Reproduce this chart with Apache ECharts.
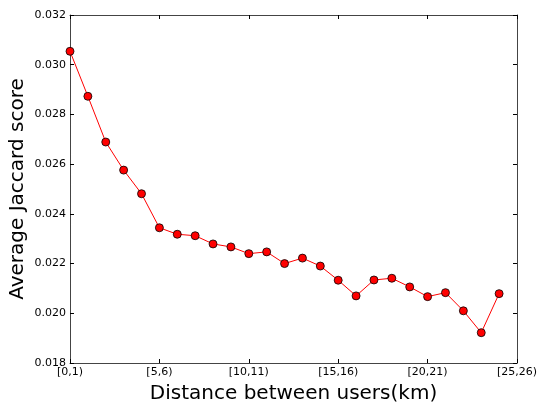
<!DOCTYPE html>
<html>
<head>
<meta charset="utf-8">
<script src="https://cdn.jsdelivr.net/npm/echarts@6/dist/echarts.min.js"></script>
<style>
  html, body { margin: 0; padding: 0; background: #fff; }
  #chart { width: 540px; height: 403px; }
</style>
</head>
<body>
<div id="chart"></div>
<script>
// distance buckets (km)
const categories = []
for (let i = 0; i <= 25; i++) categories.push('[' + i + ',' + (i + 1) + ')')

const jaccard = [
  0.03054, 0.02873, 0.02689, 0.02576, 0.02481,
  0.02344, 0.02318, 0.02312, 0.02279, 0.02267,
  0.02240, 0.02247, 0.02200, 0.02222, 0.02190,
  0.02133, 0.02070, 0.02134, 0.02141, 0.02106,
  0.02067, 0.02083, 0.02010, 0.01922, 0.02079
]

const yMin = 0.018
const yMax = 0.032
const yStep = 0.002

const font = 'DejaVu Sans'

const chart = echarts.init(document.getElementById('chart'), null, { renderer: 'canvas' })

const boxLine = { show: true, onZero: false, lineStyle: { color: '#444', width: 1 } }
const tickIn = { show: true, inside: true, length: 4, lineStyle: { color: '#000', width: 1 } }

const option = {
  animation: false,
  grid: { left: 70, top: 15, right: 23, bottom: 40, containLabel: false, outerBoundsMode: 'none' },
  xAxis: [
    {
      type: 'category',
      data: categories,
      boundaryGap: false,
      position: 'bottom',
      name: 'Distance between users(km)',
      nameLocation: 'middle',
      nameGap: 21,
      nameTextStyle: { fontFamily: font, fontSize: 20, color: '#000' },
      axisLine: boxLine,
      axisTick: Object.assign({ interval: 4 }, tickIn),
      axisLabel: { interval: 4, fontFamily: font, fontSize: 11, color: '#000', margin: 4 },
      splitLine: { show: false }
    },
    {
      type: 'category',
      data: categories,
      boundaryGap: false,
      position: 'top',
      axisLine: boxLine,
      axisTick: Object.assign({ interval: 4 }, tickIn),
      axisLabel: { show: false },
      splitLine: { show: false }
    }
  ],
  yAxis: [
    {
      type: 'value',
      min: yMin,
      max: yMax,
      interval: yStep,
      position: 'left',
      name: 'Average Jaccard score',
      nameLocation: 'middle',
      nameGap: 42,
      nameMoveOverlap: false,
      nameRotate: 90,
      nameTextStyle: { fontFamily: font, fontSize: 20, color: '#000' },
      axisLine: boxLine,
      axisTick: tickIn,
      axisLabel: {
        fontFamily: font, fontSize: 11, color: '#000', margin: 4,
        formatter: v => v.toFixed(3)
      },
      splitLine: { show: false }
    },
    {
      type: 'value',
      min: yMin,
      max: yMax,
      interval: yStep,
      position: 'right',
      axisLine: boxLine,
      axisTick: tickIn,
      axisLabel: { show: false },
      splitLine: { show: false }
    }
  ],
  series: [
    {
      type: 'line',
      data: jaccard,
      symbol: 'circle',
      symbolSize: 8,
      lineStyle: { color: '#ff0000', width: 1 },
      itemStyle: { color: '#ff0000', borderColor: '#000', borderWidth: 0.8 },
      z: 3
    }
  ]
}

chart.setOption(option)
</script>
</body>
</html>
